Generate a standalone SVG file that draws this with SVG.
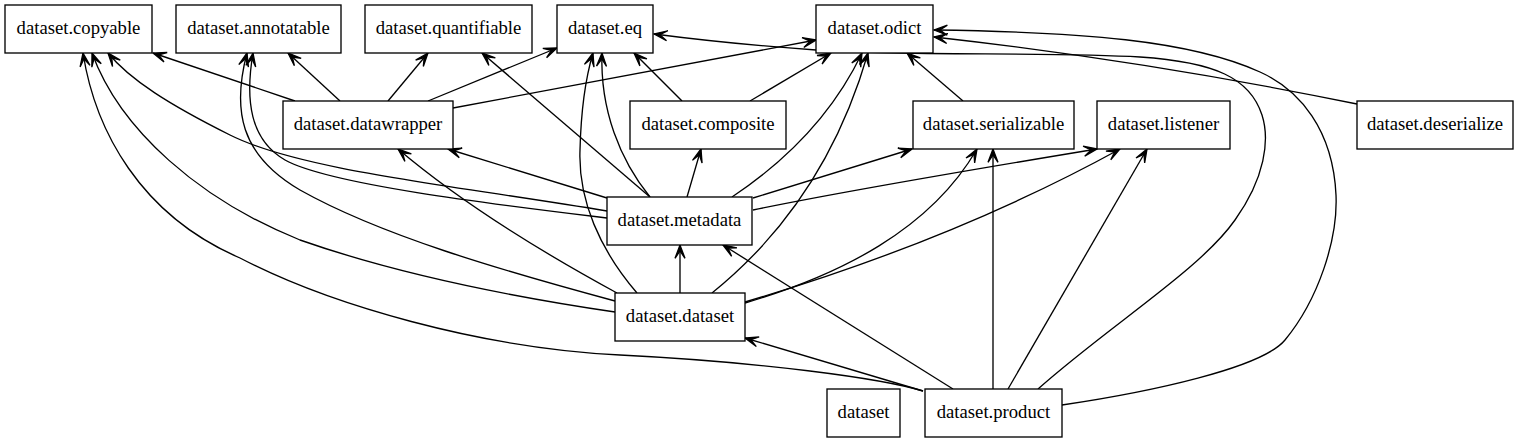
<svg xmlns="http://www.w3.org/2000/svg" width="1518" height="443" viewBox="0 0 1518 443">
<style>
.n rect{fill:#fff;stroke:#000;stroke-width:1.33}
.n text{font-size:18.67px;text-anchor:middle;fill:#000}
#edges path{fill:none;stroke:#000;stroke-width:1.33;marker-end:url(#v)}
</style>
<defs>
<marker id="v" viewBox="-16 -8 20 16" refX="0" refY="0" markerWidth="20" markerHeight="16" markerUnits="userSpaceOnUse" orient="auto" overflow="visible">
<path d="M0,0 L-13.3,-5 L-6,0 L-13.3,5 Z" fill="#000" stroke="#000" stroke-width="1.3" stroke-linejoin="miter"/>
</marker>
</defs>
<rect width="1518" height="443" fill="#fff"/>
<g id="edges">
<path d="M295,101 L153,53"/>
<path d="M340,101 L288,53"/>
<path d="M388,101 L428,53"/>
<path d="M428,101 L557,48"/>
<path d="M453,108 L816,40"/>
<path d="M682,101 L634,53"/>
<path d="M750,101 L831,53"/>
<path d="M963,101 L907,53"/>
<path d="M1357,104 C1200,72 1050,50 934,37"/>
<path d="M1062,405 C1150,392 1262,368 1285,340 C1318,300 1338,240 1336,195 C1333,130 1300,90 1260,72 C1190,40 1080,32 934,30"/>
<path d="M1038,389 C1110,325 1200,270 1235,220 C1265,178 1270,140 1262,115 C1250,78 1215,62 1140,57 C1050,52 900,56 816,50 C760,46 700,40 654,34"/>
<path d="M993,389 L993,149"/>
<path d="M1008,389 L1147,149"/>
<path d="M953,389 L723,245"/>
<path d="M923,391 L745,338"/>
<path d="M923,391 C880,378 760,362 620,355 C480,348 330,305 240,258 C140,215 95,130 83,53"/>
<path d="M607,211 C450,185 300,170 230,135 C170,105 130,80 108,53"/>
<path d="M607,218 C500,205 330,185 285,160 C250,140 245,100 253,53"/>
<path d="M615,301 C500,270 380,235 300,190 C240,155 232,110 247,53"/>
<path d="M615,312 C520,298 400,275 300,240 C200,200 120,130 92,53"/>
<path d="M607,198 L448,149"/>
<path d="M617,293 C560,262 470,210 398,149"/>
<path d="M650,197 L482,53"/>
<path d="M650,197 C620,160 600,110 602,53"/>
<path d="M637,293 C600,250 578,200 580,150 C581,110 585,80 593,53"/>
<path d="M687,197 L701,149"/>
<path d="M732,197 C780,165 830,120 862,53"/>
<path d="M712,293 C790,230 840,150 868,53"/>
<path d="M753,198 L912,149"/>
<path d="M753,210 C850,190 1000,165 1097,149"/>
<path d="M745,303 C840,275 930,230 977,149"/>
<path d="M745,302 C870,265 1000,215 1120,149"/>
<path d="M680,293 L680,245"/>
</g>
<g font-family="'Liberation Serif', 'DejaVu Serif', serif">
<g id="copyable" class="n"><rect x="5" y="5" width="147" height="48"/><text x="78.5" y="34">dataset.copyable</text></g>
<g id="annotatable" class="n"><rect x="176" y="5" width="165" height="48"/><text x="258.5" y="34">dataset.annotatable</text></g>
<g id="quantifiable" class="n"><rect x="365" y="5" width="167" height="48"/><text x="448.5" y="34">dataset.quantifiable</text></g>
<g id="eq" class="n"><rect x="557" y="5" width="96" height="48"/><text x="605" y="34">dataset.eq</text></g>
<g id="odict" class="n"><rect x="816" y="5" width="117" height="48"/><text x="874.5" y="34">dataset.odict</text></g>
<g id="datawrapper" class="n"><rect x="283" y="101" width="170" height="48"/><text x="368" y="130">dataset.datawrapper</text></g>
<g id="composite" class="n"><rect x="630" y="101" width="156" height="48"/><text x="708" y="130">dataset.composite</text></g>
<g id="serializable" class="n"><rect x="913" y="101" width="161" height="48"/><text x="993.5" y="130">dataset.serializable</text></g>
<g id="listener" class="n"><rect x="1097" y="101" width="133" height="48"/><text x="1163.5" y="130">dataset.listener</text></g>
<g id="deserialize" class="n"><rect x="1357" y="101" width="156" height="48"/><text x="1435" y="130">dataset.deserialize</text></g>
<g id="metadata" class="n"><rect x="607" y="197" width="145" height="48"/><text x="679.5" y="226">dataset.metadata</text></g>
<g id="dataset_dataset" class="n"><rect x="615" y="293" width="130" height="48"/><text x="680" y="322">dataset.dataset</text></g>
<g id="dataset" class="n"><rect x="827" y="389" width="73" height="48"/><text x="863.5" y="418">dataset</text></g>
<g id="product" class="n"><rect x="925" y="389" width="137" height="48"/><text x="993.5" y="418">dataset.product</text></g>
</g>
</svg>
